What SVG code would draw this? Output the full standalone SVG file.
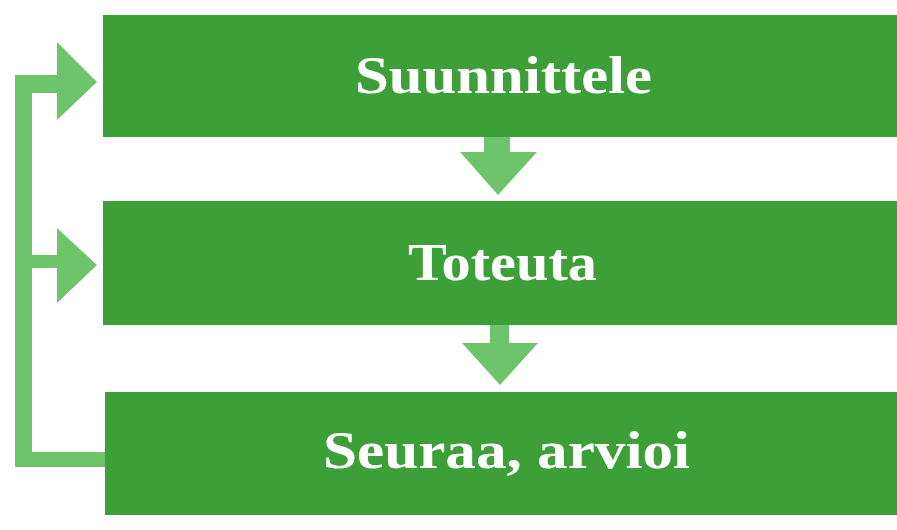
<svg xmlns="http://www.w3.org/2000/svg" width="897" height="530" viewBox="0 0 897 530">
<style>
.box{fill:#3c9f37}
.arr{fill:#6dc46b}
.lbl{font-family:"Liberation Serif","DejaVu Serif",serif;font-weight:bold;font-size:52px;fill:#ffffff;text-anchor:start}
</style>
<rect width="897" height="530" fill="#ffffff"/>
<g id="connectors">
<path class="arr" d="M15,75 H57 V42 L97,82 L57,120 V93 H32 V452 H105 V467 H15 Z"/>
<path class="arr" d="M32,255 H57 V228 L97,265 L57,303 V268 H32 Z"/>
<path class="arr" d="M484,137 H510 V152 H537 L498,195 L460,152 H484 Z"/>
<path class="arr" d="M490,325 H509 V343 H538 L500,385 L462,343 H490 Z"/>
</g>
<g id="n1">
<rect class="box" x="103" y="15" width="794" height="122"/>
<text class="lbl" x="355" y="93" textLength="297" lengthAdjust="spacingAndGlyphs">Suunnittele</text>
</g>
<g id="n2">
<rect class="box" x="103" y="201" width="794" height="124"/>
<text class="lbl" x="408" y="280" textLength="189" lengthAdjust="spacingAndGlyphs">Toteuta</text>
</g>
<g id="n3">
<rect class="box" x="105" y="392" width="792" height="123"/>
<text class="lbl" x="323" y="468" textLength="367" lengthAdjust="spacingAndGlyphs">Seuraa, arvioi</text>
</g>
</svg>
